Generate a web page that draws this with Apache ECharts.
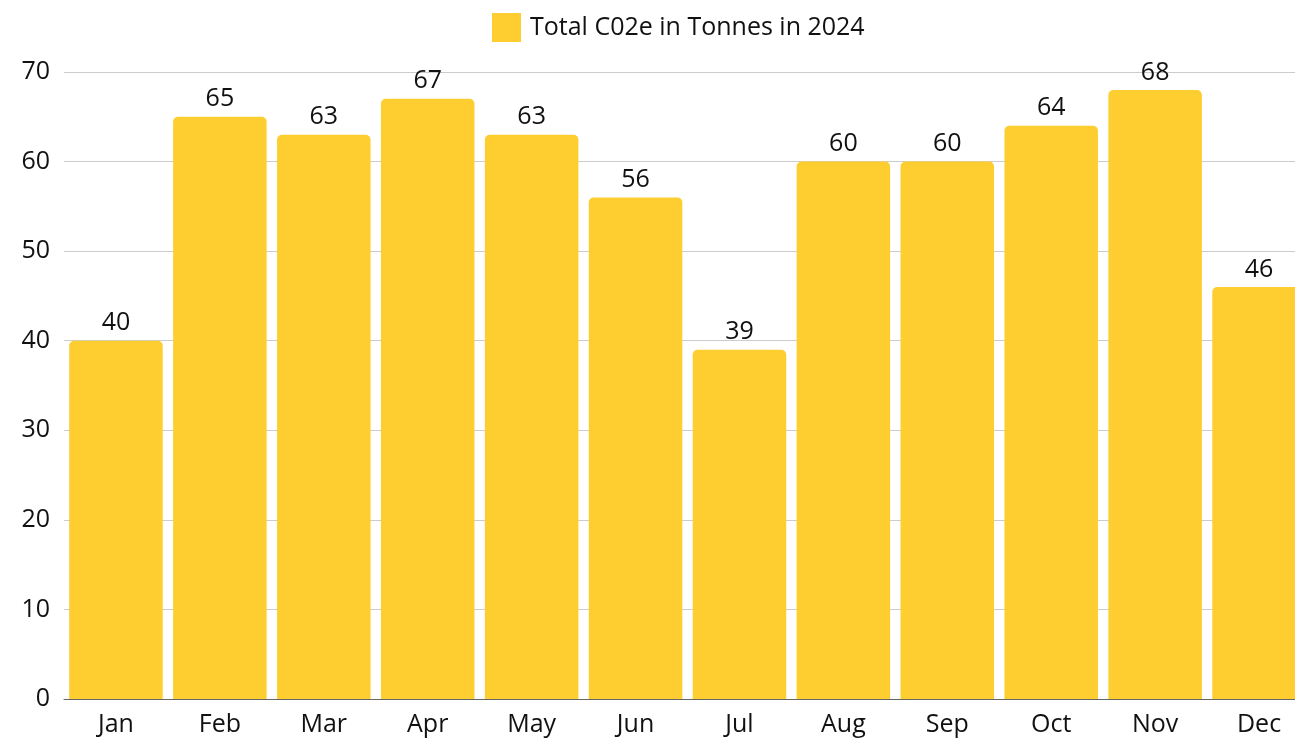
<!DOCTYPE html>
<html><head><meta charset="utf-8">
<script src="https://cdn.jsdelivr.net/npm/echarts@6/dist/echarts.min.js"></script>
<style>html,body{margin:0;padding:0;background:#fff}#c{width:1295px;height:741px}</style>
</head><body><div id="c"></div>
<script>
const categories = ['Jan','Feb','Mar','Apr','May','Jun','Jul','Aug','Sep','Oct','Nov','Dec'];
const values = [40,65,63,67,63,56,39,60,60,64,68,46];
const seriesName = 'Total C02e in Tonnes in 2024';
const font = 'Open Sans';
const chart = echarts.init(document.getElementById('c'));
chart.setOption({
  animation: false,
  legend: {
    left: 487, top: 8, itemWidth: 29, itemHeight: 29, itemGap: 10,
    icon: 'rect',
    textStyle: {fontFamily: font, fontSize: 25, color: '#111', padding: [0,0,0,4]},
    data: [seriesName]
  },
  grid: {left: 64, top: 72, width: 1247, height: 627, containLabel: false, outerBoundsMode: 'none'},
  xAxis: {
    type: 'category', data: categories,
    axisLine: {lineStyle: {color: '#666', width: 1}},
    axisTick: {show: false},
    axisLabel: {fontFamily: font, fontSize: 25, color: '#111', margin: 13}
  },
  yAxis: {
    type: 'value', min: 0, max: 70, interval: 10,
    axisLine: {show: false}, axisTick: {show: false},
    splitLine: {lineStyle: {color: '#cccccc', width: 1}},
    axisLabel: {fontFamily: font, fontSize: 25, color: '#111', margin: 14}
  },
  series: [{
    name: seriesName, type: 'bar', data: values,
    barCategoryGap: '10%',
    itemStyle: {color: '#FECE31', borderRadius: [5,5,0,0]},
    label: {show: true, position: 'top', distance: 5, fontFamily: font, fontSize: 25, color: '#111'}
  }]
});
</script></body></html>
